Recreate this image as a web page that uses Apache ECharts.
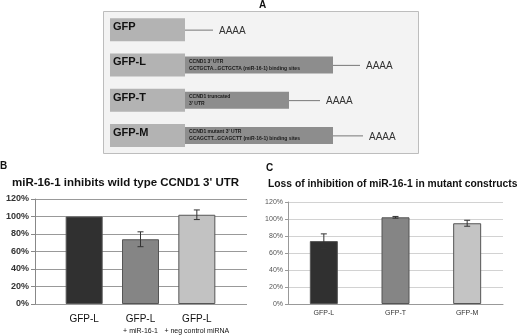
<!DOCTYPE html>
<html>
<head>
<meta charset="utf-8">
<script src="https://cdn.jsdelivr.net/npm/echarts@6/dist/echarts.min.js"></script>
<style>
  html, body { margin: 0; padding: 0; background: #fff; }
  #chart { width: 520px; height: 335px; }
</style>
</head>
<body>
<div id="chart"></div>
<script>
// panel A: constructs (lengths in px-like units)
const constructs = ['GFP', 'GFP-L', 'GFP-T', 'GFP-M'];
const gfpLen = [75, 75, 75, 75];
const utrLen = [0, 148, 104, 148];
const tailLen = [28, 27, 31, 30];
const utrLine1 = ['', "CCND1 3' UTR", 'CCND1 truncated', "CCND1 mutant 3' UTR"];
const utrLine2 = ['', 'GCTGCTA...GCTGCTA (miR-16-1) binding sites', "3' UTR", 'GCAGCTT...GCAGCTT (miR-16-1) binding sites'];

// panel B
const bCats = ['GFP-L', 'GFP-L', 'GFP-L'];
const bSub = ['', '+ miR-16-1', '+ neg control miRNA'];
const bVals = [100, 74, 102];
const bErr = [0, 8.5, 5.5];
const bColors = ['#303030', '#858585', '#c2c2c2'];

// panel C
const cCats = ['GFP-L', 'GFP-T', 'GFP-M'];
const cVals = [74, 102, 95];
const cErr = [8.5, 1, 3.5];
const cColors = ['#303030', '#858585', '#c4c4c4'];

const FONT = 'Arial, "Liberation Sans", sans-serif';
const chart = echarts.init(document.getElementById('chart'));

function constructItem(params, api) {
  const cat = api.value(0);
  const g = api.value(1), u = api.value(2), t = api.value(3);
  const p0 = api.coord([0, cat]);
  const p1 = api.coord([g, cat]);
  const p2 = api.coord([g + u, cat]);
  const p3 = api.coord([g + u + t, cat]);
  const cy = p0[1];
  const kids = [
    { type: 'rect', shape: { x: p0[0], y: cy - 11.5, width: p1[0] - p0[0], height: 23 },
      style: { fill: '#b3b3b3' } },
    { type: 'text', style: { x: p0[0] + 3, y: cy - 8, text: constructs[cat], fill: '#111',
      font: 'bold 11px ' + FONT, verticalAlign: 'top' } }
  ];
  if (u > 0) {
    kids.push({ type: 'rect', shape: { x: p1[0], y: cy - 8.5, width: p2[0] - p1[0], height: 17 },
      style: { fill: '#8d8d8d' } });
    kids.push({ type: 'text', style: { x: p1[0] + 4, y: cy - 3.5, text: utrLine1[cat], fill: '#1a1a1a',
      font: 'bold 5px ' + FONT, verticalAlign: 'middle' } });
    kids.push({ type: 'text', style: { x: p1[0] + 4, y: cy + 3.5, text: utrLine2[cat], fill: '#1a1a1a',
      font: 'bold 5px ' + FONT, verticalAlign: 'middle' } });
  }
  kids.push({ type: 'line', shape: { x1: p2[0], y1: cy + 0.5, x2: p3[0], y2: cy + 0.5 },
    style: { stroke: '#777', lineWidth: 1 } });
  kids.push({ type: 'text', style: { x: p3[0] + 6, y: cy + 1.5, text: 'AAAA', fill: '#333',
    font: '10px ' + FONT, verticalAlign: 'middle' } });
  return { type: 'group', children: kids };
}

function errItem(params, api) {
  const x = api.value(0), v = api.value(1), e = api.value(2);
  if (!e) return null;
  const hi = api.coord([x, v + e]);
  const lo = api.coord([x, v - e]);
  const w = 3;
  const st = { stroke: '#333', lineWidth: 1 };
  return {
    type: 'group',
    children: [
      { type: 'line', shape: { x1: hi[0], y1: hi[1], x2: lo[0], y2: lo[1] }, style: st },
      { type: 'line', shape: { x1: hi[0] - w, y1: hi[1], x2: hi[0] + w, y2: hi[1] }, style: st },
      { type: 'line', shape: { x1: lo[0] - w, y1: lo[1], x2: lo[0] + w, y2: lo[1] }, style: st }
    ]
  };
}

const option = {
  animation: false,
  backgroundColor: '#fff',
  textStyle: { fontFamily: FONT },
  graphic: [
    { type: 'rect', left: 103, top: 11, shape: { width: 315, height: 142 },
      style: { fill: '#f3f3f3', stroke: '#bdbdbd', lineWidth: 1 }, z: -10 },
    { type: 'text', left: 259, top: 0, style: { text: 'A', font: 'bold 10px ' + FONT, fill: '#111' } },
    { type: 'text', left: 0, top: 161, style: { text: 'B', font: 'bold 10px ' + FONT, fill: '#111' } },
    { type: 'text', left: 266, top: 163, style: { text: 'C', font: 'bold 10px ' + FONT, fill: '#111' } },
    { type: 'text', left: 12, top: 177, style: { text: "miR-16-1 inhibits wild type CCND1 3' UTR",
      font: 'bold 11.5px ' + FONT, fill: '#111' } },
    { type: 'text', left: 268, top: 179, style: { text: 'Loss of inhibition of miR-16-1 in mutant constructs',
      font: 'bold 10.3px ' + FONT, fill: '#111' } }
  ],
  grid: [
    { left: 110, top: 12, width: 300, height: 141 },           // A
    { left: 35, top: 199, width: 212, height: 105 },           // B frame
    { left: 56, top: 199, width: 169, height: 105 },           // B bars
    { left: 288, top: 202, width: 215, height: 102 }           // C
  ],
  xAxis: [
    { gridIndex: 0, type: 'value', min: 0, max: 300, show: false },
    { gridIndex: 1, type: 'value', min: 0, max: 1, show: false },
    { gridIndex: 2, type: 'category', data: bCats,
      axisLine: { show: false }, axisTick: { show: false },
      axisLabel: {
        margin: 9, interval: 0,
        formatter: (v, i) => bSub[i] ? '{m|' + v + '}\n{s|' + bSub[i] + '}' : '{m|' + v + '}',
        rich: {
          m: { fontSize: 10, color: '#111', fontFamily: FONT, lineHeight: 13, align: 'center' },
          s: { fontSize: 7, color: '#111', fontFamily: FONT, lineHeight: 10, align: 'center' }
        }
      } },
    { gridIndex: 3, type: 'category', data: cCats,
      axisLine: { lineStyle: { color: '#999' } }, axisTick: { show: false },
      axisLabel: { fontSize: 7, color: '#333', margin: 6 } }
  ],
  yAxis: [
    { gridIndex: 0, type: 'category', data: constructs, inverse: true, show: false },
    { gridIndex: 1, type: 'value', min: 0, max: 120, interval: 20,
      axisLine: { show: true, lineStyle: { color: '#888' } },
      axisTick: { show: true, length: 4, lineStyle: { color: '#888' } },
      splitLine: { lineStyle: { color: '#999' } },
      axisLabel: { formatter: '{value}%', fontSize: 9, fontWeight: 'bold', color: '#333', margin: 6 } },
    { gridIndex: 2, type: 'value', min: 0, max: 120, show: false, splitLine: { show: false } },
    { gridIndex: 3, type: 'value', min: 0, max: 120, interval: 20,
      axisLine: { show: true, lineStyle: { color: '#999' } },
      axisTick: { show: true, length: 3, lineStyle: { color: '#999' } },
      splitLine: { lineStyle: { color: '#d2d2d2' } },
      axisLabel: { formatter: '{value}%', fontSize: 7, color: '#555', margin: 5 } }
  ],
  series: [
    { type: 'custom', xAxisIndex: 0, yAxisIndex: 0, renderItem: constructItem,
      encode: { y: 0, x: 1 },
      data: constructs.map((c, i) => [i, gfpLen[i], utrLen[i], tailLen[i]]) },
    { type: 'bar', xAxisIndex: 2, yAxisIndex: 2, barWidth: 37,
      data: bVals.map((v, i) => ({ value: v, itemStyle: { color: bColors[i] } })),
      itemStyle: { borderColor: '#555', borderWidth: 1 } },
    { type: 'custom', xAxisIndex: 2, yAxisIndex: 2, renderItem: errItem, z: 5,
      encode: { x: 0, y: 1 },
      data: bVals.map((v, i) => [i, v, bErr[i]]) },
    { type: 'bar', xAxisIndex: 3, yAxisIndex: 3, barWidth: 28,
      data: cVals.map((v, i) => ({ value: v, itemStyle: { color: cColors[i] } })),
      itemStyle: { borderColor: '#555', borderWidth: 1 } },
    { type: 'custom', xAxisIndex: 3, yAxisIndex: 3, renderItem: errItem, z: 5,
      encode: { x: 0, y: 1 },
      data: cVals.map((v, i) => [i, v, cErr[i]]) }
  ]
};

chart.setOption(option);
</script>
</body>
</html>
